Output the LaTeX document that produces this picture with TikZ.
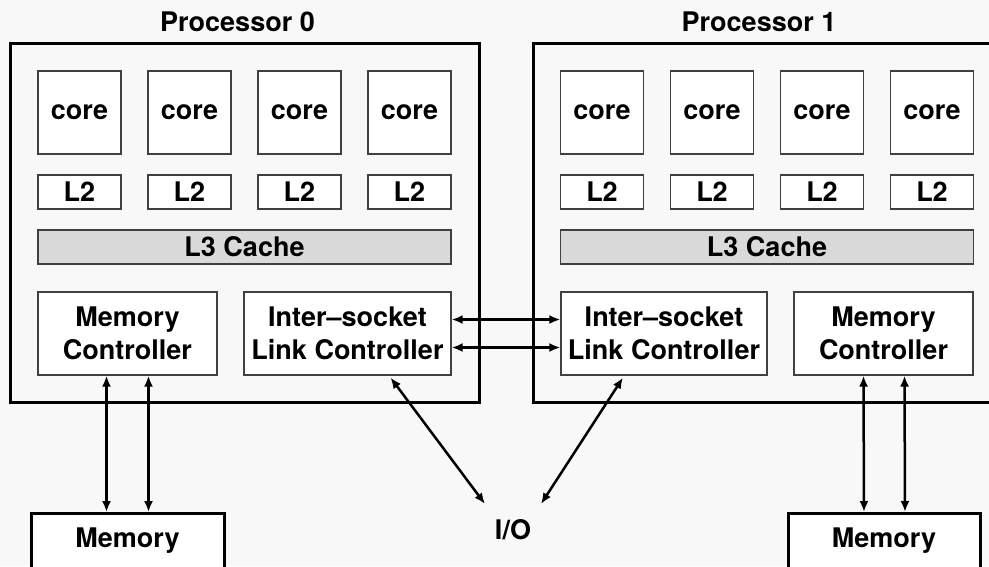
\documentclass[tikz,border=0pt]{standalone}
\usepackage{fontspec}
\setmainfont{TeX Gyre Heros}
\usetikzlibrary{arrows.meta,calc}
\definecolor{bg}{RGB}{248,248,248}
\definecolor{lthreefill}{RGB}{218,218,218}
\begin{document}
\begin{tikzpicture}[x=1pt,y=-1pt,
  lbl/.style={font=\fontsize{27}{33}\selectfont\bfseries},
  thinbox/.style={lbl, draw=black!75, line width=1.2pt, fill=white, inner sep=0pt, align=center},
  corebox/.style={thinbox, minimum width=83, minimum height=83},
  ltwo/.style={thinbox, minimum width=83, minimum height=34},
  lthree/.style={thinbox, fill=lthreefill, minimum width=413, minimum height=34},
  ctrl/.style={thinbox, minimum height=83},
  procbox/.style={draw, line width=3pt, inner sep=0pt},
  membox/.style={lbl, draw, line width=3pt, fill=white, inner sep=0pt, minimum height=62, text depth=14pt, anchor=north},
  arr/.style={line width=2.5pt, {Latex[length=11pt,width=9pt]}-{Latex[length=11pt,width=9pt]}},
]
\clip (0,0) rectangle (989,566);
\fill[bg] (0,0) rectangle (989,566);
% processors
\node[procbox, minimum width=469, minimum height=359] (p0) at (244.5,222.5) {};
\node[procbox, minimum width=470, minimum height=359] (p1) at (768,222.5) {};
\node[lbl] (t0) at (237.5,21.5) {Processor 0};
\node[lbl] (t1) at (759,21.5) {Processor 1};
% cores and L2
\foreach \i/\x in {1/79.5,2/189.5,3/299.5,4/409.5}{
  \node[corebox] (c0\i) at (\x,112.5) {core};
  \node[ltwo] (l0\i) at (\x,192) {L2};
}
\foreach \i/\x in {1/602,2/712,3/822,4/932}{
  \node[corebox] (c1\i) at (\x,112.5) {core};
  \node[ltwo] (l1\i) at (\x,192) {L2};
}
\node[lthree] (l30) at (244.5,247) {L3 Cache};
\node[lthree] (l31) at (767,247) {L3 Cache};
% controllers
\node[ctrl, minimum width=179] (mc0) at (127.5,333.5) {Memory\\Controller};
\node[ctrl, minimum width=207] (isl0) at (347.5,333.5) {Inter–socket\\Link Controller};
\node[ctrl, minimum width=206] (isl1) at (664,333.5) {Inter–socket\\Link Controller};
\node[ctrl, minimum width=179] (mc1) at (883.5,333.5) {Memory\\Controller};
% memory and IO
\node[membox, minimum width=193] (mem0) at (127.5,512) {Memory};
\node[membox, minimum width=192] (mem1) at (884,512) {Memory};
\node[lbl] (io) at (513,530) {I/O};
% connectors
\draw[arr] ($(mc0.south)+(-21,0)$) -- ($(mem0.north)+(-21,0)$);
\draw[arr] ($(mc0.south)+(21,0)$) -- ($(mem0.north)+(21,0)$);
\draw[arr] ($(mc1.south)+(-20,0)$) -- ($(mem1.north)+(-20,0)$);
\draw[arr] ($(mc1.south)+(21,0)$) -- ($(mem1.north)+(21,0)$);
\draw[arr] ($(isl0.east)+(0,-14)$) -- ($(isl1.west)+(0,-14)$);
\draw[arr] ($(isl0.east)+(0,14)$) -- ($(isl1.west)+(0,14)$);
\draw[arr] ($(isl0.south)+(43,2)$) -- ($(io.center)+(-28,-26)$);
\draw[arr] ($(isl1.south)+(-41,2)$) -- ($(io.center)+(28,-26)$);
\end{tikzpicture}
\end{document}
